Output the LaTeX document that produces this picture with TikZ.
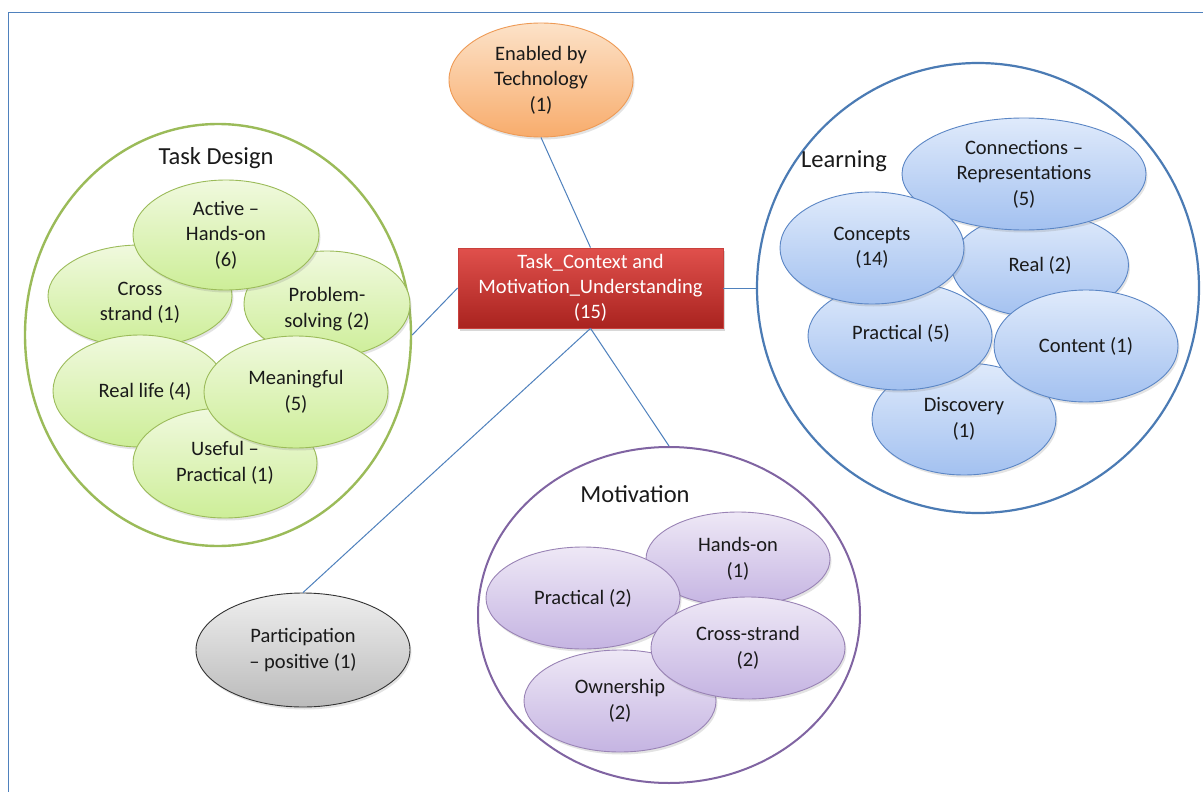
\documentclass[tikz,border=0pt]{standalone}
\usepackage{fontspec}
\setmainfont{Carlito}
\usetikzlibrary{shapes.geometric,shadows}

\definecolor{frameblue}{HTML}{4F81BD}
\definecolor{grnline}{HTML}{9BBB59}
\definecolor{grntop}{HTML}{F0F9DE}
\definecolor{grnbot}{HTML}{CDEE98}
\definecolor{bluline}{HTML}{5B86C5}
\definecolor{blutop}{HTML}{DFEAFB}
\definecolor{blubot}{HTML}{A3C1F0}
\definecolor{purline}{HTML}{8064A2}
\definecolor{purtop}{HTML}{EEE8F6}
\definecolor{purbot}{HTML}{C5B4E2}
\definecolor{orgline}{HTML}{EE9A55}
\definecolor{orgtop}{HTML}{FCE2C8}
\definecolor{orgbot}{HTML}{F8AC6C}
\definecolor{grytop}{HTML}{EEEEEE}
\definecolor{grybot}{HTML}{BBBBBB}
\definecolor{redtop}{HTML}{E0504C}
\definecolor{redbot}{HTML}{A9231F}
\definecolor{redline}{HTML}{C9403C}
\definecolor{txt}{HTML}{1A1A1A}

\tikzset{
  bubble/.style={ellipse, inner sep=0pt, align=center, text=txt,
    font=\fontsize{20.5}{25.5}\selectfont, line width=0.9pt,
    drop shadow={opacity=0.22, shadow xshift=1.5pt, shadow yshift=-2.5pt}},
  greenb/.style={bubble, draw=grnline, top color=grntop, bottom color=grnbot},
  blueb/.style={bubble, draw=bluline, top color=blutop, bottom color=blubot},
  purpleb/.style={bubble, draw=purline!80, top color=purtop, bottom color=purbot},
  orangeb/.style={bubble, draw=orgline, top color=orgtop, bottom color=orgbot},
  grayb/.style={bubble, draw=black!80, top color=grytop, bottom color=grybot},
  bubbletext/.style={align=center, text=txt, inner sep=0pt,
    font=\fontsize{20.5}{25.5}\selectfont},
  group/.style={ellipse, inner sep=0pt, line width=2.4pt, fill=white},
  grouptitle/.style={font=\fontsize{24.5}{29}\selectfont, text=txt, inner sep=0pt},
  link/.style={draw=frameblue, line width=1pt},
  sz/.style 2 args={minimum width=#1pt, minimum height=#2pt},
}

\begin{document}
\begin{tikzpicture}[x=1pt, y=-1pt]
\useasboundingbox (0,0) rectangle (1203,792);
\fill[white] (0,0) rectangle (1203,792);

% outer frame, running past the right and bottom edges
\begin{scope}
  \clip (0,0) rectangle (1203,792);
  \draw[frameblue, line width=1.6pt] (8.5,820) -- (8.5,12.5) -- (1230,12.5);
\end{scope}

% ---------- group outlines ----------
\node[group, draw=grnline, sz={386}{422}] (task) at (218,335) {};
\node[grouptitle] (tasktitle) at (216,158) {Task Design};

\node[group, draw=frameblue!95!black, line width=2.2pt, sz={442}{450}] (learn) at (978,288) {};
\node[grouptitle, anchor=west] (learntitle) at (801,161) {Learning};

\node[group, draw=purline, line width=2pt, sz={382}{336}] (motiv) at (669,615) {};
\node[grouptitle] (motivtitle) at (635,494) {Motivation};

% ---------- Task Design ----------
\node[greenb, sz={184}{102}] (cross) at (140,296) {};
\node[bubbletext] (crosst) at (140,303) {Cross\\strand (1)};
\node[greenb, sz={166}{106}] (prob) at (327,304) {};
\node[bubbletext] (probt) at (327,309) {Problem-\\solving (2)};
\node[greenb, sz={186}{110}] (active) at (226,235) {Active --\\Hands-on\\(6)};
\node[greenb, sz={174}{112}] (reallife) at (140,391) {};
\node[bubbletext] (reallifet) at (145,391) {Real life (4)};
\node[greenb, sz={184}{110}] (useful) at (225,463) {Useful --\\Practical (1)};
\node[greenb, sz={184}{112}] (meaning) at (296,392) {Meaningful\\(5)};

% ---------- Learning ----------
\node[blueb, sz={184}{112}] (disc) at (964,419) {Discovery\\(1)};
\node[blueb, sz={177}{104}] (realL) at (1040,265) {Real (2)};
\node[blueb, sz={244}{112}] (conn) at (1024,174) {Connections --\\Representations\\(5)};
\node[blueb, sz={184}{108}] (pract) at (900,336) {};
\node[bubbletext] (practt) at (901,333) {Practical (5)};
\node[blueb, sz={184}{112}] (content) at (1086,346) {Content (1)};
\node[blueb, sz={184}{112}] (concepts) at (872,248) {Concepts\\(14)};

% ---------- Motivation ----------
\node[purpleb, sz={184}{94}] (hands) at (738,559) {Hands-on\\(1)};
\node[purpleb, sz={194}{102}] (practM) at (583,598) {Practical (2)};
\node[purpleb, sz={192}{102}] (owner) at (620,701) {Ownership\\(2)};
\node[purpleb, sz={194}{102}] (crossM) at (748,648) {Cross-strand\\(2)};

% ---------- single nodes ----------
\node[orangeb, sz={184}{114}] (tech) at (541,80) {Enabled by\\Technology\\(1)};
\node[grayb, sz={214}{114}] (part) at (303,650) {Participation\\-- positive (1)};

\node[rectangle, draw=redline, line width=0.8pt, top color=redtop, bottom color=redbot,
      minimum width=265pt, minimum height=80pt, inner sep=0pt, align=center,
      text=white, font=\fontsize{20.5}{25}\selectfont,
      drop shadow={opacity=0.3, shadow xshift=2pt, shadow yshift=-2.5pt}]
  (core) at (590.5,288) {Task\_Context and\\Motivation\_Understanding\\(15)};

% ---------- connectors ----------
\draw[link] (tech.south) -- (core.north);
\draw[link] (core.west) -- (task.east);
\draw[link] (core.east) -- (learn.west);
\draw[link] (core.south) -- (motiv.north);
\draw[link] (core.south) -- (part.north);
\end{tikzpicture}
\end{document}
